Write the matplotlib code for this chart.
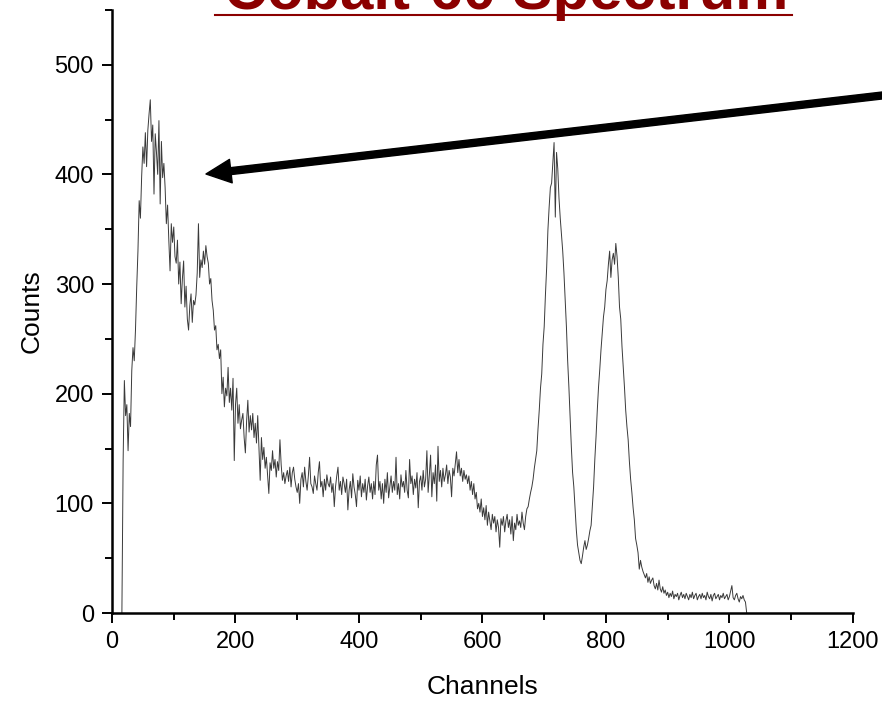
"""
Cobalt-60 gamma spectrum
"""

import matplotlib

matplotlib.use("Agg")
import matplotlib.pyplot as plt
from matplotlib.lines import Line2D
from matplotlib.ticker import MultipleLocator
import numpy as np

# channel numbers, one reading every 2 channels
channels = np.arange(16, 1030, 2)

# counts
counts = [
    0, 139, 212, 180, 190, 148, 182, 170, 221, 242,
    230, 258, 297, 330, 376, 360, 398, 425, 410, 438,
    407, 440, 455, 468, 430, 445, 382, 437, 420, 400,
    449, 373, 430, 397, 410, 388, 355, 372, 340, 312,
    355, 338, 352, 325, 319, 340, 300, 320, 282, 305,
    321, 279, 298, 268, 258, 280, 291, 265, 285, 281,
    290, 310, 355, 306, 322, 315, 330, 318, 335, 325,
    319, 300, 305, 285, 276, 258, 262, 240, 245, 232,
    240, 200, 215, 188, 205, 198, 224, 192, 205, 185,
    214, 139, 190, 205, 173, 190, 168, 176, 182, 160,
    146, 175, 194, 165, 180, 167, 182, 160, 173, 155,
    180, 150, 121, 160, 140, 151, 132, 142, 125, 109,
    137, 130, 148, 132, 140, 124, 138, 130, 158, 135,
    121, 128, 118, 125, 130, 120, 133, 115, 128, 133,
    122, 115, 110, 118, 100, 122, 128, 115, 133, 120,
    112, 125, 142, 118, 115, 109, 125, 118, 112, 128,
    138, 115, 120, 106, 122, 112, 126, 118, 115, 124,
    110, 118, 97, 115, 125, 133, 112, 120, 108, 124,
    118, 110, 122, 94, 112, 120, 105, 127, 115, 108,
    97, 121, 112, 125, 106, 118, 110, 122, 103, 116,
    124, 110, 118, 104, 120, 108, 135, 144, 112, 120,
    104, 118, 100, 122, 110, 128, 105, 115, 125, 110,
    120, 112, 142, 108, 118, 104, 126, 115, 120, 110,
    130, 112, 105, 140, 118, 125, 108, 122, 114, 128,
    96, 120, 125, 112, 130, 115, 122, 148, 110, 126,
    144, 106, 128, 118, 135, 102, 152, 120, 130, 115,
    132, 120, 126, 135, 118, 130, 124, 106, 132, 125,
    136, 147, 128, 140, 125, 132, 120, 130, 122, 126,
    118, 125, 112, 120, 108, 118, 104, 110, 95, 100,
    92, 104, 88, 96, 85, 98, 80, 92, 84, 76,
    90, 82, 88, 74, 85, 78, 60, 86, 80, 88,
    74, 84, 90, 78, 85, 72, 88, 66, 82, 76,
    90, 80, 84, 78, 92, 82, 76, 88, 95, 97,
    104, 110, 115, 122, 132, 140, 148, 168, 185, 205,
    218, 245, 261, 290, 315, 349, 370, 388, 392, 410,
    429, 361, 420, 405, 378, 360, 345, 330, 310, 285,
    261, 230, 206, 178, 151, 128, 115, 95, 76, 62,
    55, 48, 45, 52, 60, 66, 58, 62, 68, 75,
    80, 98, 115, 140, 161, 185, 206, 222, 240, 255,
    270, 279, 295, 303, 318, 330, 306, 322, 328, 318,
    337, 325, 306, 279, 268, 243, 225, 206, 185, 170,
    158, 138, 122, 110, 96, 85, 68, 62, 55, 40,
    48, 42, 38, 35, 32, 36, 28, 33, 27, 30,
    32, 25, 22, 27, 21, 30, 22, 19, 24, 18,
    21, 16, 19, 14, 18, 15, 20, 13, 17, 15,
    18, 12, 16, 19, 14, 17, 13, 18, 15, 12,
    17, 14, 19, 13, 16, 18, 12, 15, 17, 13,
    18, 14, 16, 12, 19, 15, 13, 17, 11, 16,
    18, 13, 15, 17, 12, 16, 14, 18, 13, 15,
    17, 12, 15, 20, 25, 14, 12, 16, 18, 13,
    10, 15, 13, 16, 12, 10, 0,
]

title = "Cobalt-60 Spectrum"

plt.rcParams["font.family"] = ["Liberation Sans", "DejaVu Sans"]

fig = plt.figure(figsize=(8.82, 7.03), dpi=100)
ax = fig.add_axes([0.127, 0.128, 0.840, 0.858])

ax.plot(channels, counts, color="#3a3a3a", lw=0.7)

ax.set_xlim(0, 1200)
ax.set_ylim(0, 550)
ax.xaxis.set_major_locator(MultipleLocator(200))
ax.xaxis.set_minor_locator(MultipleLocator(100))
ax.yaxis.set_major_locator(MultipleLocator(100))
ax.yaxis.set_minor_locator(MultipleLocator(50))
ax.set_yticks([0, 100, 200, 300, 400, 500])

for side in ("top", "right"):
    ax.spines[side].set_visible(False)
for side in ("left", "bottom"):
    ax.spines[side].set_linewidth(1.8)

ax.tick_params(which="major", direction="out", length=7, width=1.4,
               labelsize=17, pad=6)
ax.tick_params(which="minor", direction="out", length=5, width=1.4)

ax.set_xlabel("Channels", fontsize=19, labelpad=16)
ax.set_ylabel("Counts", fontsize=19, labelpad=8)

# title, cut off by the top edge like the slide it came from
fig.text(506 / 882, 1 - 9 / 703, title, ha="center", va="baseline",
         fontsize=43, fontweight="bold", color="#8b0000")
fig.add_artist(Line2D([215 / 882, 792 / 882], [1 - 15 / 703, 1 - 15 / 703],
                      transform=fig.transFigure, color="#8b0000", lw=1.5))

# arrow pointing at the Compton region
ax.annotate("", xy=(206, 703 - 174), xycoords="figure pixels",
            xytext=(895, 703 - 94), textcoords="figure pixels",
            arrowprops=dict(facecolor="black", edgecolor="black",
                            width=5, headwidth=17, headlength=18, shrink=0))

fig.savefig("out.png", dpi=100)
